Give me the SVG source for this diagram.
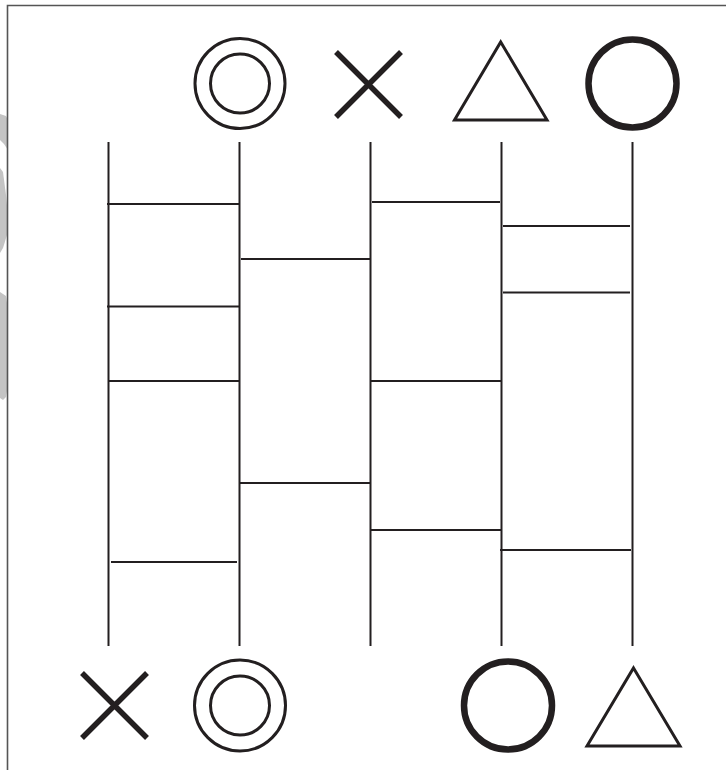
<svg xmlns="http://www.w3.org/2000/svg" width="726" height="770" viewBox="0 0 726 770">
<style>
.frame{fill:none;stroke:#555;stroke-width:1.6}
.wm{fill:#c4c4c4;stroke:none}
.leg{stroke:#231f20;stroke-width:2;fill:none}
.rung{stroke:#231f20;stroke-width:2;fill:none}
.thin{fill:none;stroke:#231f20;stroke-width:3}
.thick{fill:none;stroke:#231f20;stroke-width:6.5}
.cross{fill:none;stroke:#231f20;stroke-width:5.5}
</style>
<rect width="726" height="770" fill="#fff"/>
<g id="watermark">
<path class="wm" d="M0 114 L6 116 L8 120 L8 150 L4 144 L0 140 Z"/>
<path class="wm" d="M0 168 L3 172 L6 195 L8 215 L7 235 L3 248 L0 253 Z"/>
<path class="wm" d="M0 292 L6 296 L8 310 L8 385 L6 397 L3 400 L0 398 Z"/>
</g>
<path class="frame" d="M7.5 770 L7.5 5.5 L726 5.5"/>
<g id="legs">
<line class="leg" x1="108.5" y1="142" x2="108.5" y2="646"/>
<line class="leg" x1="239.5" y1="142" x2="239.5" y2="646"/>
<line class="leg" x1="370.5" y1="142" x2="370.5" y2="646"/>
<line class="leg" x1="501.5" y1="142" x2="501.5" y2="646"/>
<line class="leg" x1="632.5" y1="142" x2="632.5" y2="646"/>
</g>
<g id="rungs">
<line class="rung" x1="107" y1="204" x2="239" y2="204"/>
<line class="rung" x1="107" y1="306.5" x2="239" y2="306.5"/>
<line class="rung" x1="108" y1="381" x2="239" y2="381"/>
<line class="rung" x1="111" y1="562" x2="237" y2="562"/>
<line class="rung" x1="241" y1="259" x2="370" y2="259"/>
<line class="rung" x1="240" y1="483" x2="370" y2="483"/>
<line class="rung" x1="372" y1="202" x2="500" y2="202"/>
<line class="rung" x1="371" y1="381" x2="501" y2="381"/>
<line class="rung" x1="371" y1="530" x2="501" y2="530"/>
<line class="rung" x1="503" y1="226" x2="630" y2="226"/>
<line class="rung" x1="503" y1="292.5" x2="630" y2="292.5"/>
<line class="rung" x1="500" y1="550" x2="631" y2="550"/>
</g>
<g id="top-double-circle">
<circle class="thin" cx="240" cy="83.5" r="45"/>
<circle class="thin" cx="240" cy="83.5" r="29.5"/>
</g>
<g id="top-cross">
<path class="cross" d="M336 52 L401 117 M401 52 L336 117"/>
</g>
<g id="top-triangle">
<path class="thin" d="M500.7 42 L547 120 L454.5 120 Z"/>
</g>
<g id="top-circle">
<circle class="thick" cx="632.5" cy="83.5" r="44"/>
</g>
<g id="bottom-cross">
<path class="cross" d="M82 673 L147 738 M147 673 L82 738"/>
</g>
<g id="bottom-double-circle">
<circle class="thin" cx="240" cy="705.5" r="45.5"/>
<circle class="thin" cx="240" cy="705.5" r="29.5"/>
</g>
<g id="bottom-circle">
<circle class="thick" cx="508" cy="705.5" r="44"/>
</g>
<g id="bottom-triangle">
<path class="thin" d="M633.5 668 L680 746 L587 746 Z"/>
</g>
</svg>
